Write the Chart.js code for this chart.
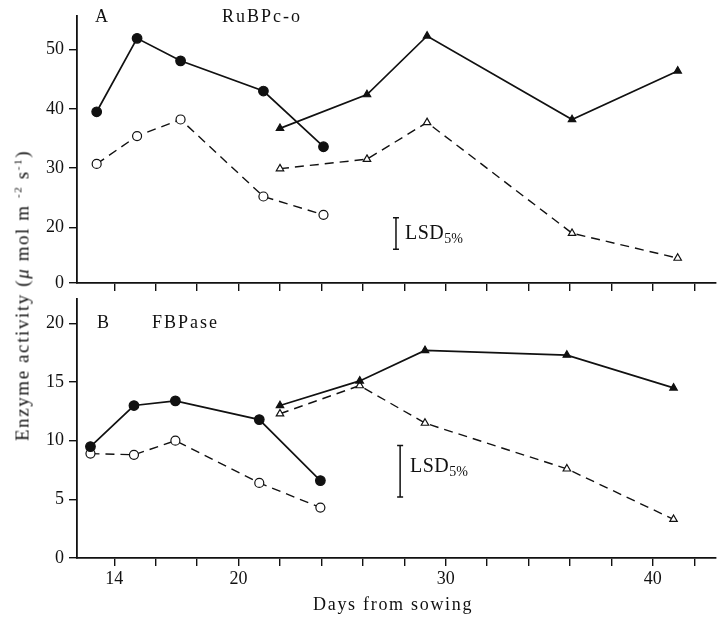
<!DOCTYPE html>
<html>
<head>
<meta charset="utf-8">
<script src="https://cdn.jsdelivr.net/npm/chart.js@4.4.0/dist/chart.umd.min.js"></script>
<style>
    body { margin: 0; background: #fff; width: 717px; height: 622px; position: relative; overflow: hidden;
           font-family: "Liberation Serif", "DejaVu Serif", serif; color: #111; }
    /* canvases are 5px wider: Chart.js keeps a small gap on the right, the figure's axis runs to the edge */
    #wrap-a { position: absolute; left: 0; top: 0; width: 722px; height: 300px; z-index: 2; }
    #wrap-b { position: absolute; left: 0; top: 283px; width: 722px; height: 339px; z-index: 1; }
    .txt { position: absolute; white-space: nowrap; line-height: 1; z-index: 3; }
    .panel { font-size: 18px; letter-spacing: 2px; }
    .lsd { font-size: 20px; letter-spacing: 0.5px; }
    .lsd sub { font-size: 14px; vertical-align: -4px; letter-spacing: 0; }
    #y-title { font-size: 19px; letter-spacing: 1.6px; width: 360px; text-align: center;
               left: -158px; top: 286px; transform: rotate(-90deg); }
    #y-title sup { font-size: 11px; vertical-align: 7px; }
    #x-title { font-size: 18px; letter-spacing: 1.7px; left: 313px; top: 595px; }
</style>
</head>
<body>
<div id="wrap-a"><canvas id="chart-a" width="722" height="300"></canvas></div>
<div id="wrap-b"><canvas id="chart-b" width="722" height="339"></canvas></div>

<div class="txt panel" style="left:95px; top:7px;">A</div>
<div class="txt panel" style="left:222px; top:7px;">RuBPc-o</div>
<div class="txt panel" style="left:97px; top:313px;">B</div>
<div class="txt panel" style="left:152px; top:313px;">FBPase</div>
<div class="txt lsd" style="left:405px; top:222px;">LSD<sub>5%</sub></div>
<div class="txt lsd" style="left:410px; top:455px;">LSD<sub>5%</sub></div>
<div class="txt" id="y-title">Enzyme activity (<i>μ</i> mol m <sup>-2</sup> s<sup>-1</sup>)</div>
<div class="txt" id="x-title">Days from sowing</div>

<script>
// x axis (days from sowing)
const xMin = 12.2;
const xMax = 43.05;
const xTickVals = [14, 16, 18, 20, 22, 24, 26, 28, 30, 32, 34, 36, 38, 40, 42];
const xLabelVals = [14, 20, 30, 40];

// Panel A: RuBPc-o (broken axis, bottom labelled 0)
const yBreakA = 10.6;
const yTicksA = [20, 30, 40, 50];
const daysCircleA = [13.15, 15.1, 17.2, 21.2, 24.1];
const daysTriangleA = [22.0, 26.2, 29.1, 36.1, 41.2];
const closedCircleA = [39.5, 51.9, 48.1, 43.0, 33.6];
const openCircleA = [30.7, 35.4, 38.2, 25.2, 22.1];
const closedTriangleA = [36.7, 42.4, 52.3, 38.2, 46.4];
const openTriangleA = [29.9, 31.5, 37.7, 19.0, 14.8];
const lsdDayA = 27.6;
const lsdRangeA = [16.3, 21.6];

// Panel B: FBPase
const yTicksB = [0, 5, 10, 15, 20];
const daysCircleB = [12.85, 14.95, 16.95, 21.0, 23.95];
const daysTriangleB = [22.0, 25.85, 29.0, 35.85, 41.0];
const closedCircleB = [9.5, 13.0, 13.4, 11.8, 6.6];
const openCircleB = [8.9, 8.8, 10.0, 6.4, 4.3];
const closedTriangleB = [13.0, 15.1, 17.7, 17.3, 14.5];
const openTriangleB = [12.3, 14.7, 11.5, 7.6, 3.3];
const lsdDayB = 27.8;
const lsdRangeB = [5.2, 9.6];

const INK = '#111';
const FONT = { family: '"Liberation Serif", serif', size: 18 };

function toPoints(days, values) {
    return days.map((d, i) => ({ x: d, y: values[i] }));
}

function makeDataset(days, values, style, filled) {
    return {
        data: toPoints(days, values),
        borderColor: INK,
        borderWidth: filled ? 1.7 : 1.4,
        borderDash: filled ? [] : [9, 6],
        pointStyle: style,
        pointRadius: style === 'circle' ? (filled ? 4.8 : 4.5) : 4.3,
        pointBackgroundColor: filled ? INK : '#fff',
        pointBorderColor: INK,
        pointBorderWidth: 1.2,
        tension: 0,
        fill: false
    };
}

// LSD bar drawn through the panel's own scales
function lsdPlugin(day, range) {
    return {
        id: 'lsd',
        afterDatasetsDraw(chart) {
            const { ctx, scales } = chart;
            const x = scales.x.getPixelForValue(day);
            const y1 = scales.y.getPixelForValue(range[0]);
            const y2 = scales.y.getPixelForValue(range[1]);
            ctx.save();
            ctx.strokeStyle = INK;
            ctx.lineWidth = 1.5;
            ctx.beginPath();
            ctx.moveTo(x, y1); ctx.lineTo(x, y2);
            ctx.moveTo(x - 3, y1); ctx.lineTo(x + 3, y1);
            ctx.moveTo(x - 3, y2); ctx.lineTo(x + 3, y2);
            ctx.stroke();
            ctx.restore();
        }
    };
}

function xScale(showLabels, height) {
    return {
        type: 'linear',
        min: xMin,
        max: xMax,
        afterBuildTicks: (scale) => { scale.ticks = xTickVals.map(v => ({ value: v })); },
        afterFit: (scale) => { scale.height = height; },
        border: { display: true, color: INK, width: 1.8 },
        grid: { drawOnChartArea: false, drawTicks: true, tickLength: 8, color: INK, lineWidth: 1.4 },
        ticks: {
            display: showLabels,
            autoSkip: false,
            maxRotation: 0,
            padding: 2,
            color: INK,
            font: FONT,
            callback: (v) => xLabelVals.includes(v) ? String(v) : ''
        }
    };
}

function yScale(min, max, tickVals, labelFn) {
    return {
        type: 'linear',
        min: min,
        max: max,
        afterBuildTicks: (scale) => { scale.ticks = tickVals.map(v => ({ value: v })); },
        afterFit: (scale) => { scale.width = 77; },
        border: { display: true, color: INK, width: 1.8 },
        grid: { drawOnChartArea: false, drawTicks: true, tickLength: 8, color: INK, lineWidth: 1.4 },
        ticks: { autoSkip: false, padding: 5, color: INK, font: FONT, callback: labelFn }
    };
}

function baseOptions(scales, padTop) {
    return {
        responsive: false,
        animation: false,
        layout: { padding: { top: padTop, right: 0, left: 0, bottom: 0 } },
        plugins: { legend: { display: false }, tooltip: { enabled: false } },
        scales: scales
    };
}

new Chart(document.getElementById('chart-a'), {
    type: 'line',
    data: {
        datasets: [
            makeDataset(daysCircleA, closedCircleA, 'circle', true),
            makeDataset(daysCircleA, openCircleA, 'circle', false),
            makeDataset(daysTriangleA, closedTriangleA, 'triangle', true),
            makeDataset(daysTriangleA, openTriangleA, 'triangle', false)
        ]
    },
    options: baseOptions({
        x: xScale(false, 17),
        y: yScale(yBreakA, 55.7, [yBreakA].concat(yTicksA), (v) => v === yBreakA ? '0' : String(v))
    }, 5),
    plugins: [lsdPlugin(lsdDayA, lsdRangeA)]
});

new Chart(document.getElementById('chart-b'), {
    type: 'line',
    data: {
        datasets: [
            makeDataset(daysCircleB, closedCircleB, 'circle', true),
            makeDataset(daysCircleB, openCircleB, 'circle', false),
            makeDataset(daysTriangleB, closedTriangleB, 'triangle', true),
            makeDataset(daysTriangleB, openTriangleB, 'triangle', false)
        ]
    },
    options: baseOptions({
        x: xScale(true, 64),
        y: yScale(0, 22.1, yTicksB, (v) => String(v))
    }, 0),
    plugins: [lsdPlugin(lsdDayB, lsdRangeB)]
});
</script>
</body>
</html>
